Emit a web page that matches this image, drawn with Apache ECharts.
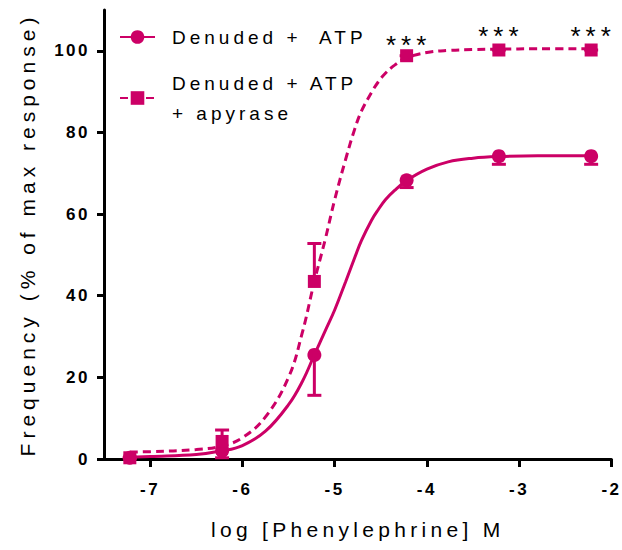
<!DOCTYPE html>
<html><head><meta charset="utf-8">
<script src="https://cdn.jsdelivr.net/npm/echarts@6/dist/echarts.min.js"></script>
<style>
html,body{margin:0;padding:0;background:#fff;}
#chart{width:622px;height:550px;}
#chart text{white-space:pre;}
</style></head><body><div id="chart"></div>
<script>
// ---- data ----
const doseLogM   = [-7.22, -6.22, -5.22, -4.22, -3.22, -2.22];
const atpMean    = [0.3, 2.0, 25.5, 68.3, 74.2, 74.2];
const atpErrLow  = [0.3, 0.3, 15.6, 66.5, 72.2, 72.2];
const apyMean    = [0.3, 4.3, 43.5, 98.8, 100.2, 100.2];
const apyErrHigh = [0.3, 7.1, 52.8, 98.8, 100.2, 100.2];
const significance = ['', '', '', '***', '***', '***'];

const fitX    = [-7.22, -7.0, -6.5, -6.22, -6.0, -5.75, -5.5, -5.35, -5.22, -5.1, -5.0, -4.88, -4.78, -4.71, -4.6, -4.53, -4.45, -4.35, -4.22, -4.0, -3.77, -3.5, -3.22, -2.8, -2.22];
const atpFitY = [0.4, 0.6, 1.1, 2.0, 3.3, 6.8, 13.3, 19, 25.5, 31.5, 36.5, 43.5, 49.5, 53.5, 58.5, 61, 63.5, 65.8, 68.2, 71.0, 72.8, 73.7, 74.1, 74.3, 74.3];
const apyFitY = [1.7, 1.8, 2.3, 3.2, 5.2, 10.3, 20, 31, 43.5, 54, 63.5, 73.5, 81, 85.2, 89.8, 92.3, 94.5, 96.5, 98.3, 99.6, 100.1, 100.3, 100.4, 100.5, 100.5];

const xTickValues = [-7, -6, -5, -4, -3, -2];
const seriesNames = ['Denuded +  ATP', 'Denuded + ATP\n+ apyrase'];
const xTitle = 'log [Phenylephrine] M';
const yTitle = 'Frequency (% of max response)';

// ---- chart ----
const COLOR = '#CC0066';
const FONT = '"Liberation Sans", Arial, sans-serif';
const zip = (a, b) => a.map((v, i) => [v, b[i]]);

function errorBar(params, api) {
  const x = api.value(0), m = api.value(1), e = api.value(2);
  const p0 = api.coord([x, m]);
  const p1 = api.coord([x, e]);
  return {
    type: 'group',
    children: [
      { type: 'line', shape: { x1: p0[0], y1: p0[1], x2: p1[0], y2: p1[1] }, style: { stroke: COLOR, lineWidth: 3 } },
      { type: 'line', shape: { x1: p1[0] - 7, y1: p1[1], x2: p1[0] + 7, y2: p1[1] }, style: { stroke: COLOR, lineWidth: 3 } }
    ]
  };
}

const chart = echarts.init(document.getElementById('chart'), null, { renderer: 'svg' });
chart.setOption({
  animation: false,
  backgroundColor: '#fff',
  grid: { left: 104, right: 8, top: 10, bottom: 91, containLabel: false },
  legend: {
    data: seriesNames,
    orient: 'vertical',
    left: 119, top: 22, padding: 0,
    itemWidth: 35, itemHeight: 17, itemGap: 16,
    textStyle: { fontFamily: FONT, fontSize: 19, color: '#000', lineHeight: 30, padding: [0, 0, 0, 12] }
  },
  xAxis: {
    type: 'value', min: -7.5, max: -2,
    name: xTitle, nameLocation: 'middle', nameGap: 60,
    nameTextStyle: { fontFamily: FONT, fontSize: 21, color: '#000' },
    axisLine: { lineStyle: { color: '#000', width: 3 } },
    axisTick: { show: true, length: 8, lineStyle: { color: '#000', width: 3 }, customValues: xTickValues },
    axisLabel: { fontFamily: FONT, fontSize: 17, fontWeight: 'bold', color: '#000', margin: 22, customValues: xTickValues },
    splitLine: { show: false }
  },
  yAxis: {
    type: 'value', min: 0, max: 110, interval: 20,
    name: yTitle, nameLocation: 'middle', nameGap: 66,
    nameTextStyle: { fontFamily: FONT, fontSize: 21, color: '#000' },
    axisLine: { lineStyle: { color: '#000', width: 3 } },
    axisTick: { show: true, length: 7, lineStyle: { color: '#000', width: 3 } },
    axisLabel: { fontFamily: FONT, fontSize: 17, fontWeight: 'bold', color: '#000', margin: 14,
      showMaxLabel: false },
    splitLine: { show: false }
  },
  series: [
    { name: seriesNames[0], type: 'line', data: zip(fitX, atpFitY), smooth: 0.4,
      symbol: 'circle', symbolSize: 14, showSymbol: false, color: COLOR,
      lineStyle: { color: COLOR, width: 3 }, itemStyle: { color: COLOR }, silent: true },
    { name: seriesNames[1], type: 'line', data: zip(fitX, apyFitY), smooth: 0.4,
      symbol: 'rect', symbolSize: 13, showSymbol: false, color: COLOR,
      lineStyle: { color: COLOR, width: 3, type: [8, 5] }, itemStyle: { color: COLOR }, silent: true },
    { name: 'atpErr', type: 'custom', renderItem: errorBar,
      data: doseLogM.map((x, i) => [x, atpMean[i], atpErrLow[i]]), encode: { x: 0, y: [1, 2] } },
    { name: 'atpPts', type: 'scatter', symbol: 'circle', symbolSize: 14,
      data: zip(doseLogM, atpMean), itemStyle: { color: COLOR, opacity: 1 } },
    { name: 'apyErr', type: 'custom', renderItem: errorBar,
      data: doseLogM.map((x, i) => [x, apyMean[i], apyErrHigh[i]]), encode: { x: 0, y: [1, 2] } },
    { name: 'apyPts', type: 'scatter', symbol: 'rect', symbolSize: 13,
      data: doseLogM.map((x, i) => ({
        value: [x, apyMean[i]],
        label: { show: significance[i] !== '', formatter: significance[i], position: 'top',
          distance: 0, offset: [2, i === 3 ? 9 : 5] }
      })),
      label: { fontFamily: FONT, fontSize: 26, color: '#000' },
      itemStyle: { color: COLOR, opacity: 1 } }
  ]
});

function applySpacing() {
  document.querySelectorAll('#chart svg text').forEach(t => {
    const fs = parseFloat(getComputedStyle(t).fontSize);
    let ls = 0;
    if (fs >= 26) ls = 5;
    else if (fs >= 21) {
      const m = t.getCTM();
      ls = (m && Math.abs(m.b) > 0.5) ? 5 : 4.3;
    }
    else if (fs >= 19) ls = 4;
    else if (fs >= 17) ls = 2.5;
    t.style.letterSpacing = ls + 'px';
  });
}
applySpacing();
chart.on('finished', applySpacing);
</script></body></html>
